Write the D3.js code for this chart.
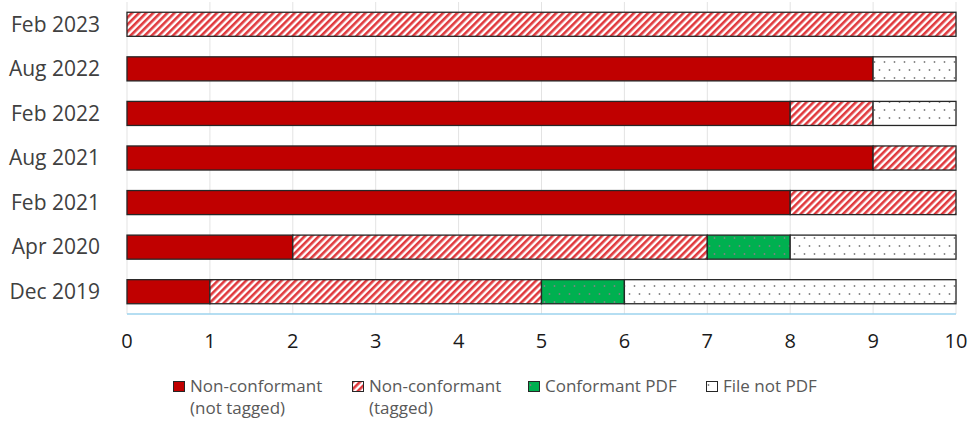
<!DOCTYPE html>
<html>
<head>
<meta charset="utf-8">
<script src="https://cdn.jsdelivr.net/npm/d3@7"></script>
<style>
  body { margin: 0; background: #fff; }
  svg { display: block; font-family: "Open Sans", Lato, sans-serif; }
</style>
</head>
<body>
<div id="chart"></div>
<script>
// data (count of items per category)
var categories = ["Feb 2023", "Aug 2022", "Feb 2022", "Aug 2021", "Feb 2021", "Apr 2020", "Dec 2019"];
var seriesNames = ["Non-conformant (not tagged)", "Non-conformant (tagged)", "Conformant PDF", "File not PDF"];
var notTagged  = [0, 9, 8, 9, 8, 2, 1];
var tagged     = [10, 0, 1, 1, 2, 5, 4];
var conformant = [0, 0, 0, 0, 0, 1, 1];
var notPdf     = [0, 1, 1, 0, 0, 2, 4];
var xTicks = [0, 1, 2, 3, 4, 5, 6, 7, 8, 9, 10];

var W = 971, H = 423;
var margin = {top: 2, right: 15, bottom: 109, left: 127},
    width = W - margin.left - margin.right,
    height = H - margin.top - margin.bottom;

var svg = d3.select("#chart").append("svg")
  .attr("width", W).attr("height", H);

// patterns
var defs = svg.append("defs");
var hatch = defs.append("pattern")
  .attr("id", "hatch").attr("patternUnits", "userSpaceOnUse")
  .attr("width", 5).attr("height", 5)
  .attr("patternTransform", "rotate(45)");
hatch.append("rect").attr("width", 5).attr("height", 5).attr("fill", "#fff");
hatch.append("rect").attr("width", 2.6).attr("height", 5).attr("fill", "#e0393d");

function dots(id, bg) {
  var p = defs.append("pattern")
    .attr("id", id).attr("patternUnits", "userSpaceOnUse")
    .attr("width", 10).attr("height", 16);
  p.append("rect").attr("width", 10).attr("height", 16).attr("fill", bg);
  p.append("circle").attr("cx", 2.5).attr("cy", 4).attr("r", 0.9).attr("fill", "#808080");
  p.append("circle").attr("cx", 7.5).attr("cy", 12).attr("r", 0.9).attr("fill", "#808080");
}
dots("dotsWhite", "#fff");
dots("dotsGreen", "#00b050");

var fills = ["#c00000", "url(#hatch)", "url(#dotsGreen)", "url(#dotsWhite)"];

var g = svg.append("g")
  .attr("transform", "translate(" + margin.left + "," + margin.top + ")");

var x = d3.scaleLinear().domain([0, 10]).range([0, width]);
var y = d3.scaleBand().domain(categories).range([0, height]).paddingInner(0.46).paddingOuter(0.23);

// gridlines
g.append("g").selectAll("line")
  .data(xTicks)
  .enter().append("line")
  .attr("x1", function(d) { return x(d); })
  .attr("x2", function(d) { return x(d); })
  .attr("y1", 0).attr("y2", height)
  .attr("stroke", "#e3e3e3").attr("stroke-width", 1);

// stack
var rows = categories.map(function(c, i) {
  return {cat: c, s0: notTagged[i], s1: tagged[i], s2: conformant[i], s3: notPdf[i]};
});
var stack = d3.stack().keys(["s0", "s1", "s2", "s3"]);
var layers = stack(rows);

g.selectAll("g.layer")
  .data(layers)
  .enter().append("g")
  .attr("class", "layer")
  .attr("fill", function(d, i) { return fills[i]; })
  .selectAll("rect")
  .data(function(d) { return d.filter(function(v) { return v[1] > v[0]; }); })
  .enter().append("rect")
  .attr("x", function(d) { return x(d[0]); })
  .attr("y", function(d) { return y(d.data.cat); })
  .attr("width", function(d) { return x(d[1]) - x(d[0]); })
  .attr("height", y.bandwidth())
  .attr("stroke", "#262626")
  .attr("stroke-width", 1.3);

// x axis line
g.append("line")
  .attr("x1", 0).attr("x2", width)
  .attr("y1", height).attr("y2", height)
  .attr("stroke", "#9dd3ee").attr("stroke-width", 1.5);

// x tick labels
g.append("g").selectAll("text")
  .data(xTicks)
  .enter().append("text")
  .attr("x", function(d) { return x(d); })
  .attr("y", height + 34)
  .attr("text-anchor", "middle")
  .attr("font-size", 20)
  .attr("fill", "#1a1a1a")
  .text(function(d) { return d; });

// y labels
g.append("g").selectAll("text")
  .data(categories)
  .enter().append("text")
  .attr("x", -27)
  .attr("y", function(d) { return y(d) + y.bandwidth() / 2; })
  .attr("dy", "0.35em")
  .attr("text-anchor", "end")
  .attr("font-size", 21)
  .attr("fill", "#404040")
  .text(function(d) { return d; });

// legend
var legendX = [173, 352, 528, 706];
var legendLines = [["Non-conformant", "(not tagged)"], ["Non-conformant", "(tagged)"], ["Conformant PDF"], ["File not PDF"]];
var legend = svg.append("g").selectAll("g")
  .data(seriesNames)
  .enter().append("g")
  .attr("transform", function(d, i) { return "translate(" + legendX[i] + ",381)"; });

legend.append("rect")
  .attr("x", 0.5).attr("y", 0.5)
  .attr("width", 11).attr("height", 10)
  .attr("fill", function(d, i) { return fills[i]; })
  .attr("stroke", "#262626").attr("stroke-width", 1);

legend.append("text")
  .attr("x", 17).attr("y", 11)
  .attr("font-size", 17)
  .attr("fill", "#595959")
  .each(function(d, i) {
    var t = d3.select(this);
    legendLines[i].forEach(function(line, k) {
      t.append("tspan").attr("x", 17).attr("dy", k === 0 ? 0 : 22).text(line);
    });
  });
</script>
</body>
</html>
